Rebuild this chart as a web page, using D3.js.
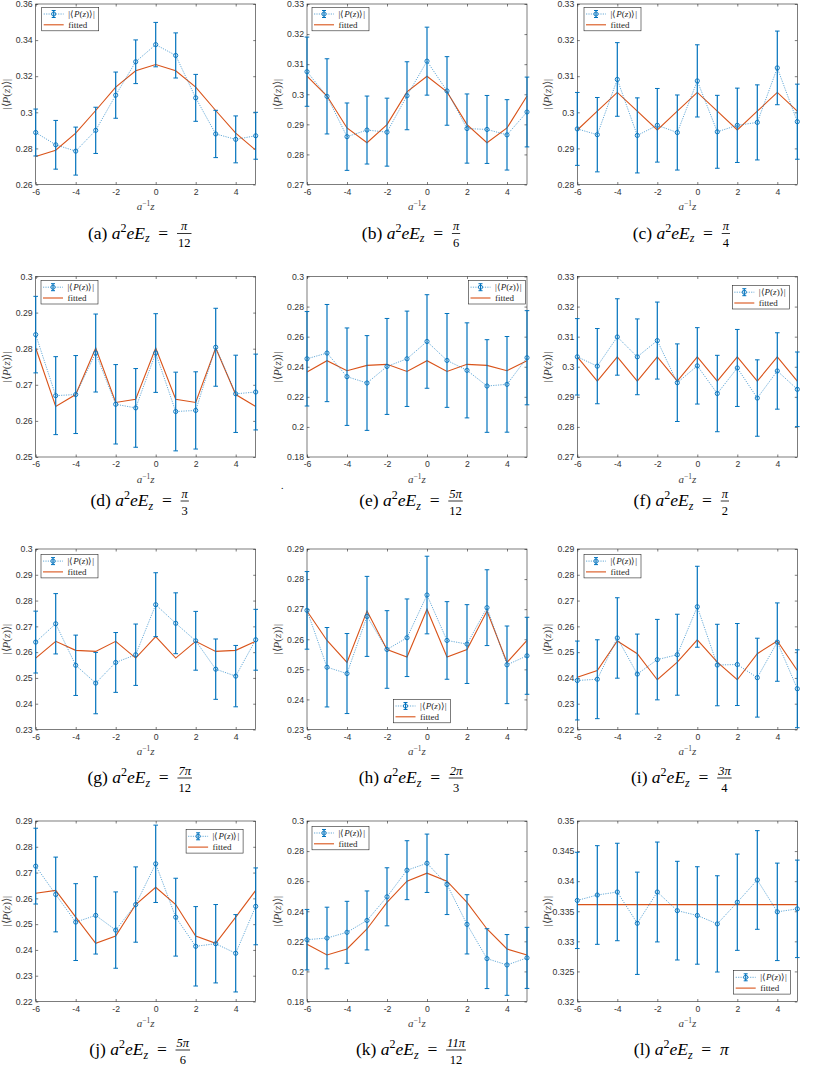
<!DOCTYPE html>
<html>
<head>
<meta charset="utf-8">
<script src="https://cdn.jsdelivr.net/npm/d3@7"></script>
<style>
  body { margin: 0; background: #fff; }
</style>
</head>
<body>
<div id="fig"></div>
<script>

var svgWidth = 822;
var svgHeight = 1074;

// x positions shared by every panel
var zVals = [-6, -5, -4, -3, -2, -1, 0, 1, 2, 3, 4, 5];
var xTicks = [-6, -4, -2, 0, 2, 4];

// caption parts: (letter) a^2 e E_z = num/den
var panelLetters = ['a', 'b', 'c', 'd', 'e', 'f', 'g', 'h', 'i', 'j', 'k', 'l'];
var fieldNum = ['π', 'π', 'π', 'π', '5π', 'π', '7π', '2π', '3π', '5π', '11π', 'π'];
var fieldDen = ['12', '6', '4', '3', '12', '2', '12', '3', '4', '6', '12', ''];

// y ranges and tick steps
var yDomains = [[0.26, 0.36], [0.27, 0.33], [0.28, 0.33], [0.25, 0.30],
                [0.18, 0.30], [0.27, 0.33], [0.23, 0.30], [0.23, 0.29],
                [0.22, 0.29], [0.22, 0.29], [0.18, 0.30], [0.32, 0.35]];
var yTickSteps = [0.02, 0.01, 0.01, 0.01, 0.02, 0.01, 0.01, 0.01, 0.01, 0.01, 0.02, 0.005];

// |<P(z)>| values, error bars and fitted curve, one set per panel
var pA = [0.2888, 0.282, 0.2785, 0.290, 0.3095, 0.328, 0.3375, 0.3315, 0.308, 0.288, 0.285, 0.287];
var eA = [0.013, 0.0135, 0.0133, 0.0128, 0.0128, 0.0121, 0.0123, 0.0125, 0.013, 0.0131, 0.013, 0.013];
var fA = [0.2755, 0.279, 0.2885, 0.301, 0.314, 0.323, 0.3265, 0.323, 0.314, 0.301, 0.2885, 0.279];

var pB = [0.3075, 0.2993, 0.2859, 0.2881, 0.2874, 0.2995, 0.311, 0.3011, 0.2886, 0.2883, 0.2865, 0.2941];
var eB = [0.0115, 0.0125, 0.0112, 0.0113, 0.0113, 0.0113, 0.0113, 0.0114, 0.0115, 0.0113, 0.0117, 0.0116];
var fB = [0.306, 0.2994, 0.2888, 0.2839, 0.2899, 0.3008, 0.306, 0.3008, 0.2899, 0.2839, 0.2888, 0.2994];

var pC = [0.2954, 0.2938, 0.3091, 0.2936, 0.2964, 0.2944, 0.3087, 0.2946, 0.2964, 0.2972, 0.3123, 0.2974];
var eC = [0.0101, 0.0103, 0.0102, 0.0104, 0.0102, 0.0104, 0.010, 0.0101, 0.0103, 0.0104, 0.0102, 0.0104];
var fC = [0.2951, 0.3003, 0.3055, 0.3003, 0.2951, 0.3003, 0.3055, 0.3003, 0.2951, 0.3003, 0.3055, 0.3003];

var pD = [0.2839, 0.267, 0.2673, 0.2788, 0.2646, 0.2636, 0.2788, 0.2626, 0.2629, 0.2804, 0.2675, 0.268];
var eD = [0.0106, 0.0108, 0.0108, 0.0108, 0.011, 0.0109, 0.0109, 0.0109, 0.0107, 0.0108, 0.0107, 0.0105];
var fD = [0.2802, 0.264, 0.2673, 0.2802, 0.2651, 0.266, 0.2802, 0.266, 0.2651, 0.2802, 0.2673, 0.264];

var pE = [0.2453, 0.2491, 0.2334, 0.2292, 0.2402, 0.2453, 0.2568, 0.2442, 0.2376, 0.2272, 0.2283, 0.246];
var eE = [0.0314, 0.0323, 0.0324, 0.0315, 0.0319, 0.0317, 0.0311, 0.0312, 0.0316, 0.0308, 0.0318, 0.0313];
var fE = [0.2365, 0.244, 0.2374, 0.2409, 0.2416, 0.2369, 0.244, 0.2369, 0.2416, 0.2409, 0.2374, 0.244];

var pF = [0.3033, 0.3002, 0.3099, 0.3033, 0.3087, 0.2947, 0.3003, 0.2911, 0.2996, 0.2896, 0.2986, 0.2925];
var eF = [0.0127, 0.0125, 0.0127, 0.0126, 0.0128, 0.0129, 0.0127, 0.0127, 0.0128, 0.0127, 0.0127, 0.0124];
var fF = [0.3033, 0.2952, 0.3033, 0.2952, 0.3033, 0.2952, 0.3033, 0.2952, 0.3033, 0.2952, 0.3033, 0.2952];

var pG = [0.2639, 0.271, 0.2549, 0.248, 0.256, 0.259, 0.2784, 0.2712, 0.2644, 0.2534, 0.2507, 0.2648];
var eG = [0.012, 0.0117, 0.0117, 0.0119, 0.0116, 0.0119, 0.0124, 0.0118, 0.0114, 0.0117, 0.0119, 0.0118];
var fG = [0.2577, 0.2642, 0.2607, 0.2603, 0.2642, 0.2577, 0.266, 0.2577, 0.2642, 0.2603, 0.2607, 0.2642];

var pH = [0.2696, 0.2507, 0.2486, 0.2676, 0.2566, 0.2605, 0.2747, 0.2596, 0.2584, 0.2705, 0.2515, 0.2545];
var eH = [0.0129, 0.0132, 0.0133, 0.0133, 0.0129, 0.0129, 0.0129, 0.0129, 0.0131, 0.0126, 0.0129, 0.0128];
var fH = [0.2694, 0.2596, 0.2523, 0.2694, 0.2566, 0.2541, 0.27, 0.2541, 0.2566, 0.2694, 0.2523, 0.2596];

var pI = [0.239, 0.2395, 0.2555, 0.2415, 0.2471, 0.249, 0.2676, 0.245, 0.2452, 0.2401, 0.2539, 0.2358];
var eI = [0.0153, 0.0153, 0.0156, 0.0155, 0.0156, 0.0157, 0.0157, 0.0158, 0.0159, 0.0153, 0.0152, 0.0151];
var fI = [0.2403, 0.2429, 0.2543, 0.2494, 0.2393, 0.2461, 0.2548, 0.2461, 0.2393, 0.2494, 0.2543, 0.2429];

var pJ = [0.2725, 0.2615, 0.2508, 0.2534, 0.2477, 0.2576, 0.2734, 0.2527, 0.2414, 0.2424, 0.2387, 0.2569];
var eJ = [0.0147, 0.0145, 0.0149, 0.015, 0.0148, 0.0146, 0.015, 0.0151, 0.0154, 0.0152, 0.015, 0.0149];
var fJ = [0.262, 0.2631, 0.2527, 0.2426, 0.2454, 0.2576, 0.2643, 0.2576, 0.2454, 0.2426, 0.2527, 0.2631];

var pK = [0.2211, 0.2222, 0.226, 0.2339, 0.2496, 0.2673, 0.2719, 0.2578, 0.2313, 0.2085, 0.2043, 0.209];
var eK = [0.0201, 0.0205, 0.0206, 0.0196, 0.0193, 0.0196, 0.0194, 0.020, 0.0197, 0.0199, 0.0202, 0.0203];
var fK = [0.218, 0.2109, 0.2149, 0.2282, 0.2459, 0.26, 0.2653, 0.26, 0.2459, 0.2282, 0.2149, 0.2109];

var pL = [0.3368, 0.3377, 0.3382, 0.333, 0.3382, 0.3351, 0.3343, 0.3329, 0.3365, 0.3402, 0.3349, 0.3354];
var eL = [0.008, 0.0082, 0.0081, 0.0085, 0.0083, 0.0082, 0.0081, 0.008, 0.008, 0.0082, 0.0081, 0.0081];
var fL = [0.3361, 0.3361, 0.3361, 0.3361, 0.3361, 0.3361, 0.3361, 0.3361, 0.3361, 0.3361, 0.3361, 0.3361];

var pVals = [pA, pB, pC, pD, pE, pF, pG, pH, pI, pJ, pK, pL];
var pErrs = [eA, eB, eC, eD, eE, eF, eG, eH, eI, eJ, eK, eL];
var fitVals = [fA, fB, fC, fD, fE, fF, fG, fH, fI, fJ, fK, fL];

// layout of the 4x3 grid
var colLeft = [35.7, 307, 577.3];
var rowTop = [4, 276.5, 549, 821];
var plotW = 220;
var plotH = 180.5;
var captionY = [238.5, 506, 783, 1055];

// legend corner and offsets per panel
var legendAt = [['nw', 6, 3.3], ['nw', 5, 3.3], ['nw', 6.7, 3.3],
                ['nw', 5.3, 4], ['ne', 1.5, 4], ['ne', 8, 9],
                ['nw', 5.3, 5.4], ['s', 5, 6.7], ['nw', 6.7, 5.4],
                ['ne', 12.6, 8.6], ['nw', 5, 5.3], ['se', 6.6, 7.4]];

var blue = '#0072BD';
var orange = '#D95319';
var axisColor = '#262626';
var sans = "'Liberation Sans', Arial, Helvetica, sans-serif";
var serif = "'Liberation Serif', 'Times New Roman', serif";

var svg = d3.select('#fig')
  .append('svg')
  .attr('width', svgWidth)
  .attr('height', svgHeight);

function ticksFor(dom, step) {
  var n = Math.round((dom[1] - dom[0]) / step);
  return d3.range(n + 1).map(k => +(dom[0] + k * step).toFixed(4));
}

var fmt = v => String(+v.toFixed(3));

// |<P(z)>| label with italic P and z
function pLabel(sel) {
  sel.append('tspan').text('|⟨');
  sel.append('tspan').attr('font-style', 'italic').text('P');
  sel.append('tspan').text('(');
  sel.append('tspan').attr('font-style', 'italic').text('z');
  sel.append('tspan').text(')⟩|');
}

function drawLegend(g, pos) {
  var lw = 57, lh = 23.5, lx, ly;
  if (pos[0] === 'nw') { lx = pos[1]; ly = pos[2]; }
  else if (pos[0] === 'ne') { lx = plotW - pos[1] - lw; ly = pos[2]; }
  else if (pos[0] === 'se') { lx = plotW - pos[1] - lw; ly = plotH - pos[2] - lh; }
  else { lx = plotW / 2 + pos[1] - lw / 2; ly = plotH - pos[2] - lh; }

  var lg = g.append('g').attr('transform', `translate(${lx},${ly})`);
  lg.append('rect')
    .attr('width', lw).attr('height', lh)
    .attr('fill', '#fff').attr('stroke', axisColor).attr('stroke-width', 0.6);

  // errorbar entry
  var r1 = 6.7, r2 = 17.5;
  lg.append('line')
    .attr('x1', 2).attr('x2', 22).attr('y1', r1).attr('y2', r1)
    .attr('stroke', blue).attr('stroke-width', 0.8).attr('stroke-dasharray', '1.2,1.2')
    .attr('opacity', 0.75);
  lg.append('line')
    .attr('x1', 12).attr('x2', 12).attr('y1', r1 - 3.5).attr('y2', r1 + 3.5)
    .attr('stroke', blue).attr('stroke-width', 1.1);
  [r1 - 3.5, r1 + 3.5].forEach(function(cy) {
    lg.append('line')
      .attr('x1', 10).attr('x2', 14).attr('y1', cy).attr('y2', cy)
      .attr('stroke', blue).attr('stroke-width', 1);
  });
  lg.append('circle')
    .attr('cx', 12).attr('cy', r1).attr('r', 2.1)
    .attr('fill', 'none').attr('stroke', blue).attr('stroke-width', 0.9);
  lg.append('text')
    .attr('x', 26.5).attr('y', r1 + 3)
    .attr('font-family', serif).attr('font-size', 9).attr('fill', axisColor)
    .call(pLabel);

  // fitted entry
  lg.append('line')
    .attr('x1', 2).attr('x2', 22).attr('y1', r2).attr('y2', r2)
    .attr('stroke', orange).attr('stroke-width', 1.1);
  lg.append('text')
    .attr('x', 26.5).attr('y', r2 + 3)
    .attr('font-family', serif).attr('font-size', 9).attr('fill', axisColor)
    .text('fitted');
}

function drawCaption(i, cx, base) {
  var cap = svg.append('g');
  var t = cap.append('text')
    .attr('y', base)
    .attr('font-family', serif).attr('font-size', 17.5).attr('fill', '#000');
  t.append('tspan').text('(' + panelLetters[i] + ') ');
  t.append('tspan').attr('font-style', 'italic').text('a');
  t.append('tspan').attr('font-size', 12).attr('dy', -7).text('2');
  t.append('tspan').attr('font-style', 'italic').attr('dy', 7).text('eE');
  t.append('tspan').attr('font-style', 'italic').attr('font-size', 12).attr('dy', 3.5).text('z');
  t.append('tspan').attr('dy', -3.5).text('\u2002=\u2002');
  if (fieldDen[i] === '') {
    t.append('tspan').attr('font-style', 'italic').text(fieldNum[i]);
  }
  var mainW = t.node().getComputedTextLength();

  var fracW = 0;
  if (fieldDen[i] !== '') {
    var num = cap.append('text')
      .attr('y', base - 8.5).attr('text-anchor', 'middle')
      .attr('font-family', serif).attr('font-size', 12.5).attr('font-style', 'italic')
      .text(fieldNum[i]);
    var den = cap.append('text')
      .attr('y', base + 8.5).attr('text-anchor', 'middle')
      .attr('font-family', serif).attr('font-size', 12.5)
      .text(fieldDen[i]);
    fracW = Math.max(num.node().getComputedTextLength(), den.node().getComputedTextLength()) + 2;
    var fx = cx - (mainW + fracW) / 2 + mainW;
    num.attr('x', fx + fracW / 2);
    den.attr('x', fx + fracW / 2);
    cap.append('line')
      .attr('x1', fx).attr('x2', fx + fracW)
      .attr('y1', base - 5).attr('y2', base - 5)
      .attr('stroke', '#000').attr('stroke-width', 0.8);
  }
  t.attr('x', cx - (mainW + fracW) / 2);
}

pVals.forEach(function(vals, i) {
  var col = i % 3;
  var row = Math.floor(i / 3);
  var g = svg.append('g')
    .attr('transform', `translate(${colLeft[col]},${rowTop[row]})`);

  var x = d3.scaleLinear().domain([-6, 5]).range([0, plotW]);
  var y = d3.scaleLinear().domain(yDomains[i]).range([plotH, 0]);
  var yTicks = ticksFor(yDomains[i], yTickSteps[i]);

  // white plot area
  g.append('rect').attr('width', plotW).attr('height', plotH).attr('fill', '#fff');

  // axes with inward ticks
  var leftAxis = d3.axisLeft(y).tickValues(yTicks).tickFormat(fmt).tickSizeInner(-2.5).tickSizeOuter(0).tickPadding(3);
  var bottomAxis = d3.axisBottom(x).tickValues(xTicks).tickFormat(fmt).tickSizeInner(-2.5).tickSizeOuter(0).tickPadding(4);
  var rightAxis = d3.axisRight(y).tickValues(yTicks).tickFormat('').tickSizeInner(-2.5).tickSizeOuter(0);
  var topAxis = d3.axisTop(x).tickValues(xTicks).tickFormat('').tickSizeInner(-2.5).tickSizeOuter(0);

  [[leftAxis, 'translate(0,0)'], [bottomAxis, `translate(0,${plotH})`],
   [rightAxis, `translate(${plotW},0)`], [topAxis, 'translate(0,0)']].forEach(function(a) {
    var ag = g.append('g')
      .attr('transform', a[1])
      .attr('color', axisColor)
      .call(a[0]);
    ag.select('.domain').remove();
    ag.selectAll('line').attr('stroke-width', 0.6);
    ag.selectAll('text').attr('font-family', sans).attr('font-size', 8.7).attr('fill', '#333');
  });

  g.append('rect')
    .attr('width', plotW).attr('height', plotH)
    .attr('fill', 'none').attr('stroke', axisColor).attr('stroke-width', 0.6);

  // fitted curve
  g.append('path')
    .datum(fitVals[i])
    .attr('fill', 'none')
    .attr('stroke', orange)
    .attr('stroke-width', 1.1)
    .attr('d', d3.line().x((d, k) => x(zVals[k])).y(d => y(d)));

  // dotted data line
  g.append('path')
    .datum(vals)
    .attr('fill', 'none')
    .attr('stroke', blue)
    .attr('stroke-width', 0.8)
    .attr('stroke-dasharray', '1.2,1.2')
    .attr('opacity', 0.75)
    .attr('d', d3.line().x((d, k) => x(zVals[k])).y(d => y(d)));

  // error bars
  var bars = g.append('g').selectAll('g')
    .data(vals)
    .enter()
    .append('g');
  bars.append('line')
    .attr('x1', (d, k) => x(zVals[k])).attr('x2', (d, k) => x(zVals[k]))
    .attr('y1', (d, k) => y(d + pErrs[i][k])).attr('y2', (d, k) => y(d - pErrs[i][k]))
    .attr('stroke', blue).attr('stroke-width', 1.2);
  bars.append('line')
    .attr('x1', (d, k) => x(zVals[k]) - 2.3).attr('x2', (d, k) => x(zVals[k]) + 2.3)
    .attr('y1', (d, k) => y(d + pErrs[i][k])).attr('y2', (d, k) => y(d + pErrs[i][k]))
    .attr('stroke', blue).attr('stroke-width', 1);
  bars.append('line')
    .attr('x1', (d, k) => x(zVals[k]) - 2.3).attr('x2', (d, k) => x(zVals[k]) + 2.3)
    .attr('y1', (d, k) => y(d - pErrs[i][k])).attr('y2', (d, k) => y(d - pErrs[i][k]))
    .attr('stroke', blue).attr('stroke-width', 1);
  bars.append('circle')
    .attr('cx', (d, k) => x(zVals[k])).attr('cy', d => y(d))
    .attr('r', 2.1)
    .attr('fill', 'none').attr('stroke', blue).attr('stroke-width', 0.9);

  drawLegend(g, legendAt[i]);

  // axis titles
  var xl = g.append('text')
    .attr('x', plotW / 2).attr('y', plotH + 25.5)
    .attr('text-anchor', 'middle')
    .attr('font-family', serif).attr('font-size', 11).attr('fill', '#404040');
  xl.append('tspan').attr('font-style', 'italic').text('a');
  xl.append('tspan').attr('font-size', 7.5).attr('dy', -4).text('−1');
  xl.append('tspan').attr('font-style', 'italic').attr('dy', 4).text('z');

  g.append('text')
    .attr('transform', `translate(-26,${plotH / 2}) rotate(-90)`)
    .attr('text-anchor', 'middle')
    .attr('font-family', serif).attr('font-size', 11).attr('fill', '#404040')
    .call(pLabel);

  drawCaption(i, colLeft[col] + plotW / 2 - 6, captionY[row]);
});

// stray dot that sits left of caption (e)
svg.append('text')
  .attr('x', 281).attr('y', 489)
  .attr('font-family', serif).attr('font-size', 10)
  .text('.');

</script>
</body>
</html>
